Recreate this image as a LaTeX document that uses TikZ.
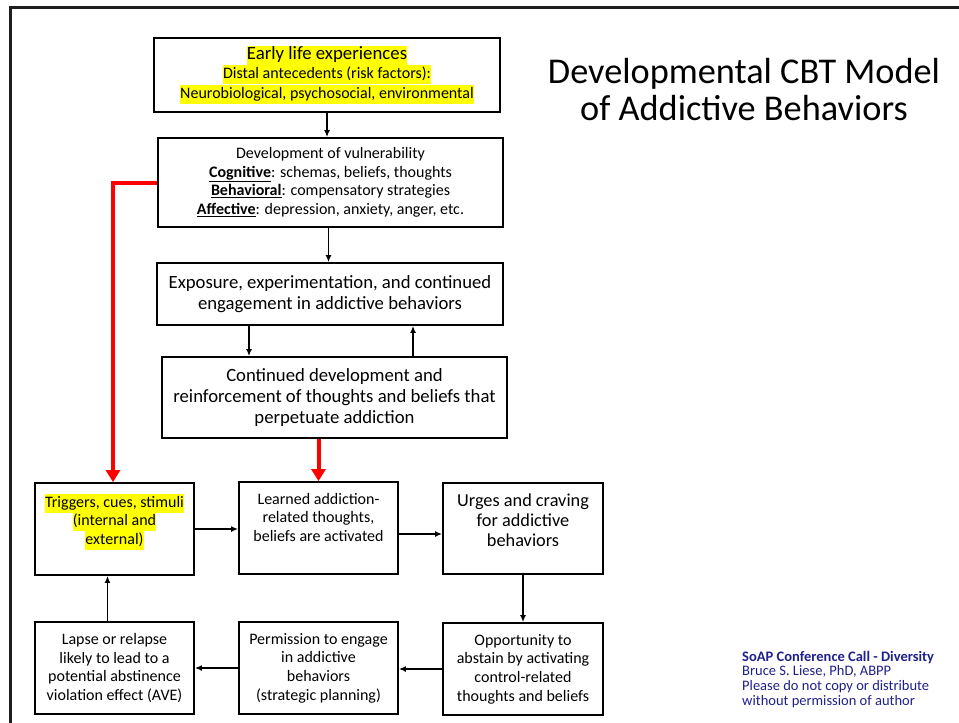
\documentclass[tikz,border=0pt]{standalone}
\usepackage{fontspec}
\setmainfont{Carlito}
\usetikzlibrary{arrows.meta}

\definecolor{hlyellow}{RGB}{255,255,0}
\definecolor{noteblue}{RGB}{32,32,140}
\definecolor{framegray}{RGB}{30,30,30}

\newcommand{\hlt}[1]{{\setlength{\fboxsep}{0pt}\colorbox{hlyellow}{\strut #1}}}
\newcommand{\ubf}[1]{\underline{\textbf{#1}}}
\newcommand{\topcell}[1]{\parbox[c][70pt][t]{155pt}{\centering #1}}

\begin{document}
\begin{tikzpicture}[x=1pt,y=1pt,
    box/.style={draw, line width=1.8pt, inner sep=0pt, align=center},
    small/.style={box, minimum width=159pt, minimum height=92pt,
      font=\fontsize{16}{18.7}\selectfont},
    arr/.style={-{Latex[length=7pt,width=6pt]}, line width=1.8pt},
    redarr/.style={-{Triangle[length=12pt,width=14pt]}, line width=4pt, draw=red}]
  \useasboundingbox (0,0) rectangle (959,-723);
  % slide frame
  \draw[framegray, line width=2.6pt] (10.5,-723) -- (10.5,-7.5) -- (959,-7.5);

  % title and footnote
  \node[align=center, font=\fontsize{36.3}{37}\selectfont] (title) at (744,-90)
    {Developmental CBT Model\\of Addictive Behaviors};
  \node[anchor=north west, align=left, text=noteblue, inner sep=0pt,
    font=\fontsize{14.5}{14.6}\selectfont] (note) at (742,-651)
    {\textbf{SoAP Conference Call - Diversity}\\Bruce S. Liese, PhD, ABPP\\
     Please do not copy or distribute\\without permission of author};

  % upper column
  \node[box, minimum width=346pt, minimum height=74pt] (early) at (327,-75)
    {{\fontsize{18.8}{19}\selectfont\hlt{Early life experiences}}\\[-1pt]
     {\fontsize{16}{19}\selectfont\hlt{Distal antecedents (risk factors):}}\\
     {\fontsize{16}{19}\selectfont\hlt{Neurobiological, psychosocial, environmental}}};
  \node[box, minimum width=345pt, minimum height=89pt,
    font=\fontsize{16}{18.5}\selectfont] (vuln) at (330.5,-182.5)
    {Development of vulnerability\\
     \ubf{Cognitive}: schemas, beliefs, thoughts\\
     \ubf{Behavioral}: compensatory strategies\\
     \ubf{Affective}: depression, anxiety, anger, etc.};
  \node[box, minimum width=346pt, minimum height=62pt,
    font=\fontsize{18.7}{21}\selectfont] (expo) at (330,-294)
    {Exposure, experimentation, and continued\\engagement in addictive behaviors};
  \node[box, minimum width=345pt, minimum height=81pt,
    font=\fontsize{18.7}{21}\selectfont] (cont) at (334.5,-397.5)
    {Continued development and\\reinforcement of thoughts and beliefs that\\perpetuate addiction};

  % cycle
  \node[small] (trig) at (114.5,-529)
    {\topcell{\hlt{Triggers, cues, stimuli}\\\hlt{(internal and}\\\hlt{external)}}};
  \node[small] (learn) at (318.5,-528)
    {\topcell{Learned addiction-\\related thoughts,\\beliefs are activated}};
  \node[small, minimum width=160pt, minimum height=91pt,
    font=\fontsize{18.3}{20}\selectfont] (urge) at (523,-528.5)
    {\topcell{Urges and craving\\for addictive\\behaviors}};
  \node[small, minimum width=160pt] (opp) at (523,-669)
    {Opportunity to\\abstain by activating\\control-related\\thoughts and beliefs};
  \node[small] (perm) at (318.5,-668)
    {Permission to engage\\in addictive\\behaviors\\(strategic planning)};
  \node[small] (lapse) at (114.5,-668)
    {Lapse or relapse\\likely to lead to a\\potential abstinence\\violation effect (AVE)};

  \draw[arr] (early.south) -- (early.south |- vuln.north);
  \draw[arr] ([xshift=-2pt]vuln.south) -- ([xshift=-2pt]vuln.south |- expo.north);
  \draw[arr] ([xshift=-81pt]expo.south) -- ([xshift=-81pt]expo.south |- cont.north);
  \draw[arr] ([xshift=83pt]expo.south |- cont.north) -- ([xshift=83pt]expo.south);
  \draw[arr] (trig.east) -- (trig.east -| learn.west);
  \draw[arr] ([yshift=-6pt]learn.east) -- ([yshift=-6pt]learn.east -| urge.west);
  \draw[arr] (urge.south) -- (opp.north);
  \draw[arr] (opp.west) -- (opp.west -| perm.east);
  \draw[arr] (perm.west) -- (perm.west -| lapse.east);
  \draw[arr] ([xshift=-7pt]lapse.north) -- ([xshift=-7pt]lapse.north |- trig.south);

  \draw[redarr] (vuln.west) -| ([xshift=-1.5pt]trig.north);
  \draw[redarr] (cont.south -| learn.north) -- (learn.north);
\end{tikzpicture}
\end{document}
